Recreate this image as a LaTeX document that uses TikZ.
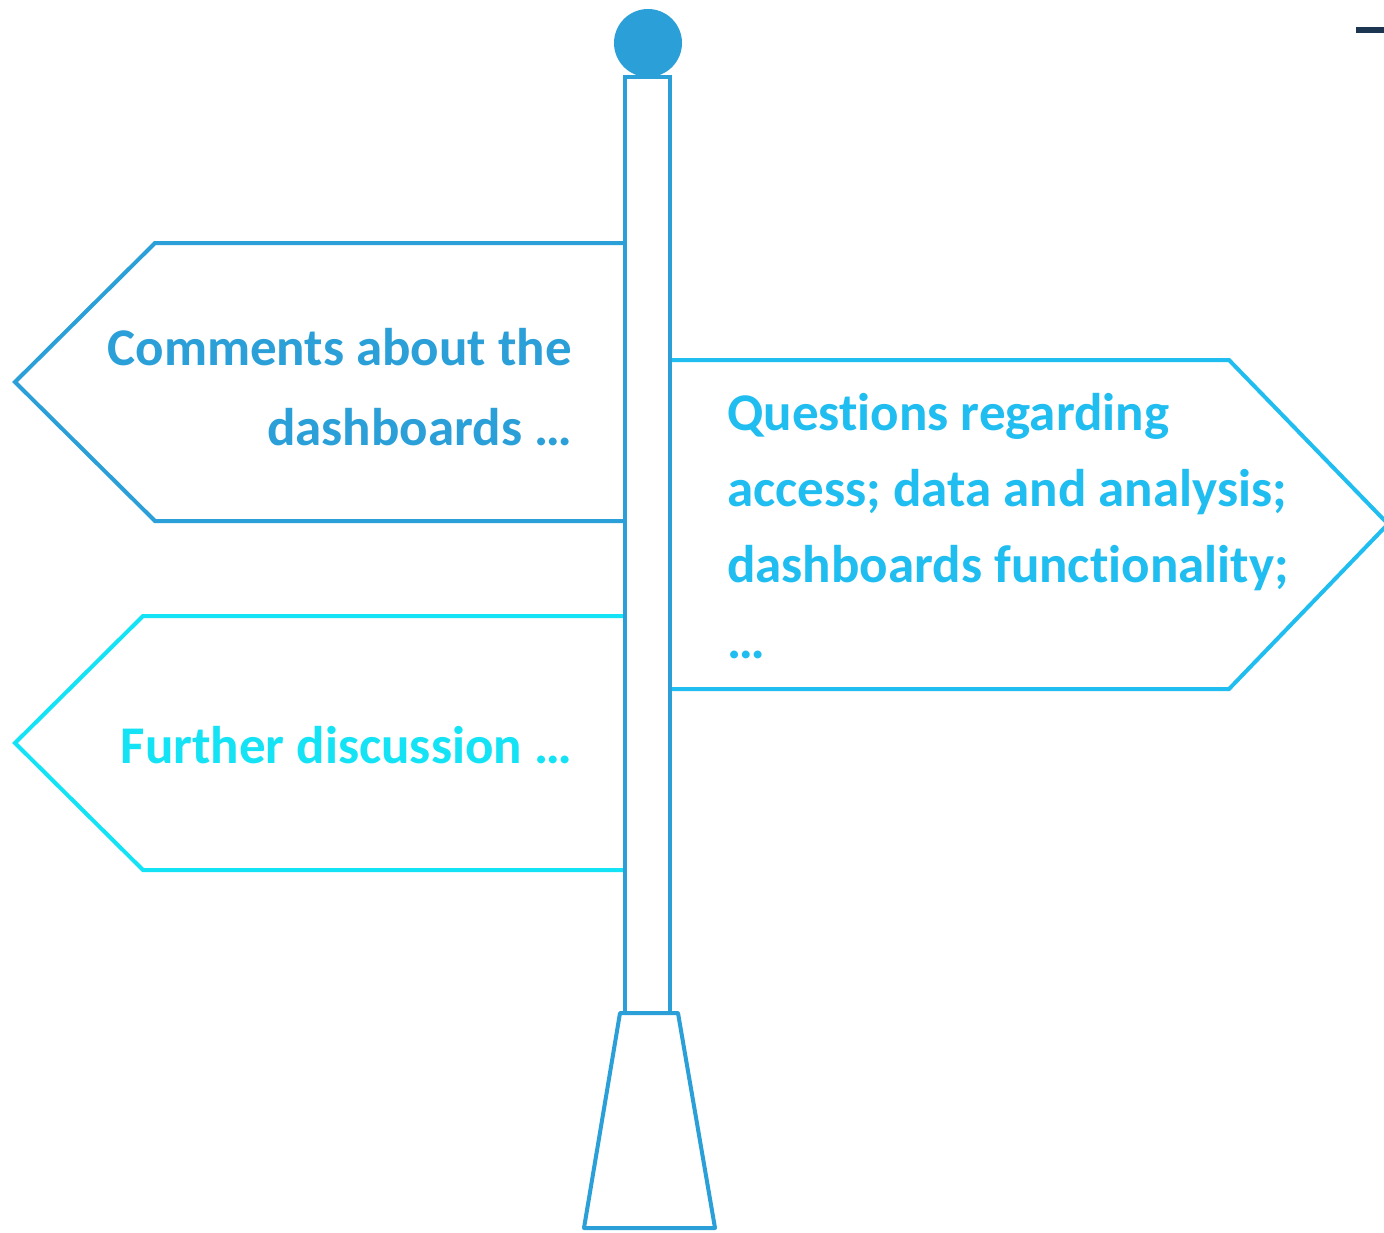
\documentclass[tikz,border=0pt]{standalone}
\usepackage{fontspec}
\setmainfont[Ligatures=NoCommon]{Carlito}
\usepackage{tikz}
\usetikzlibrary{positioning}
\definecolor{poleblue}{HTML}{2A9FD8}
\definecolor{skyblue}{HTML}{1FBDF0}
\definecolor{aquablue}{HTML}{14E3F5}
\definecolor{navybar}{HTML}{1C3550}
\tikzstyle{sign} = [line width=4pt, line join=miter, fill=white]
\tikzstyle{label} = [font=\fontsize{53}{76}\selectfont\bfseries, inner sep=0pt]

\begin{document}
\begin{tikzpicture}[x=1pt, y=-1pt]
    \useasboundingbox (0,0) rectangle (1384,1232);
    % Corner mark
    \fill[navybar] (1356,27) rectangle (1384,33);

    % Signs
    \draw[sign, draw=poleblue] (625,243) -- (155,243) -- (15,382) -- (155,521) -- (625,521);
    \draw[sign, draw=skyblue] (670,360) -- (1229,360) -- (1388,524) -- (1229,689) -- (670,689);
    \draw[sign, draw=aquablue] (625,616) -- (143,616) -- (15,743) -- (143,870) -- (625,870);

    % Post
    \draw[sign, draw=poleblue] (625,77) rectangle (670,1013);
    \draw[sign, draw=poleblue, line join=round] (620,1013) -- (678,1013) -- (715,1228) -- (584,1228) -- cycle;
    \fill[poleblue] (648,43) circle (34);

    % Texts (base anchor = last line)
    \node[label, text=poleblue, align=right, anchor=base east, font=\fontsize{53}{80}\selectfont\bfseries] (comments) at (572,445) {Comments about the\\dashboards \dots};
    \node[label, text=skyblue, align=left, anchor=base west] (questions) at (727,658) {Questions regarding\\access; data and analysis;\\dashboards functionality;\\\dots};
    \node[label, text=aquablue, anchor=base east] (further) at (572,763) {Further discussion \dots};
\end{tikzpicture}
\end{document}
